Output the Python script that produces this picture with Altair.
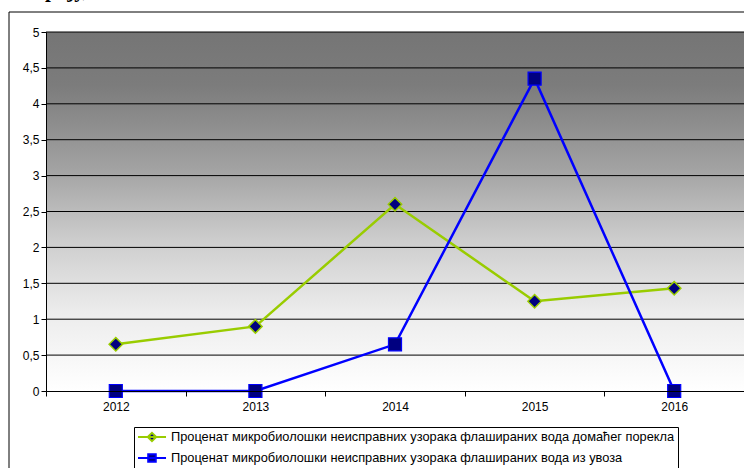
import altair as alt
import pandas as pd

years = ["2012", "2013", "2014", "2015", "2016"]
series_names = [
    "Проценат микробиолошки неисправних узорака флашираних вода домаћег порекла",
    "Проценат микробиолошки неисправних узорака флашираних вода из увоза",
]
domestic = [0.65, 0.9, 2.6, 1.25, 1.43]
imported = [0.0, 0.0, 0.65, 4.35, 0.0]
y_ticks = [0, 0.5, 1, 1.5, 2, 2.5, 3, 3.5, 4, 4.5, 5]
top_text = "прају,"

GREEN = "#99cc00"
BLUE = "#0000ff"
NAVY = "#000080"
FONT = "Liberation Sans"

rows = []
for name, vals in zip(series_names, [domestic, imported]):
    for yr, v in zip(years, vals):
        rows.append({"year": yr, "value": v, "series": name})
df = pd.DataFrame(rows)
grid_df = pd.DataFrame({"v": y_ticks[1:]})
one = pd.DataFrame({"a": [0]})

W, H = 698, 359

yscale = alt.Scale(domain=[0, 5], nice=False, zero=True)
yaxis = alt.Axis(
    values=y_ticks, grid=False, title=None, labelFont=FONT, labelFontSize=12,
    labelColor="black", tickColor="black", domainColor="black", tickSize=5,
    labelPadding=2, labelExpr="replace(toString(datum.value), '.', ',')", zindex=1,
)
xscale = alt.Scale(type="band", domain=years, paddingInner=0, paddingOuter=0)
xaxis = alt.Axis(
    title=None, labelFont=FONT, labelFontSize=12, labelColor="black", labelAngle=0,
    tickColor="black", domainColor="black", tickSize=5, tickBand="extent",
    labelPadding=5, grid=False, zindex=1,
)

X = alt.X("year:N", scale=xscale, axis=xaxis)
Y = alt.Y("value:Q", scale=yscale, axis=yaxis)

frame = alt.Chart(one).mark_rect(fill="white", fillOpacity=0, stroke="black", strokeWidth=1).encode(
    x=alt.value(-37), x2=alt.value(720), y=alt.value(-20), y2=alt.value(470)
)

title_txt = alt.Chart(one).mark_text(
    text=top_text, font="Liberation Serif", fontWeight="bold", fontSize=21,
    align="left", baseline="alphabetic", color="black",
).encode(x=alt.value(-13), y=alt.value(-35))

gradient = alt.Chart(one).mark_rect(
    fill=alt.Gradient(
        gradient="linear",
        stops=[
            alt.GradientStop(color="#757575", offset=0),
            alt.GradientStop(color="#7c7c7c", offset=0.15),
            alt.GradientStop(color="#a2a2a2", offset=0.38),
            alt.GradientStop(color="#cdcdcd", offset=0.58),
            alt.GradientStop(color="#ececec", offset=0.78),
            alt.GradientStop(color="#ffffff", offset=1),
        ],
        x1=0, y1=0, x2=0, y2=1,
    )
).encode(x=alt.value(0), x2=alt.value(W), y=alt.value(0), y2=alt.value(H))

grid = alt.Chart(grid_df).mark_rule(color="black", strokeWidth=1).encode(
    y=alt.Y("v:Q", scale=yscale, axis=yaxis)
)

lines = alt.Chart(df).mark_line(strokeWidth=2.5).encode(
    x=X, y=Y,
    color=alt.Color("series:N", scale=alt.Scale(domain=series_names, range=[GREEN, BLUE]), legend=None),
    detail="series:N",
)

pts_dom = alt.Chart(df).transform_filter(alt.datum.series == series_names[0]).mark_point(
    shape="diamond", filled=True, fill=NAVY, stroke=GREEN, strokeWidth=1.5, size=180, opacity=1
).encode(x=X, y=Y)

pts_imp = alt.Chart(df).transform_filter(alt.datum.series == series_names[1]).mark_point(
    shape="square", filled=True, fill=NAVY, stroke=BLUE, strokeWidth=1.2, size=170, opacity=1
).encode(x=X, y=Y)

path_d = "M-1,0L3.67,0M0.63,0L1.33,-0.7L2.03,0L1.33,0.7Z"
path_s = "M-1,0L3.67,0M0.7,-0.63L1.96,-0.63L1.96,0.63L0.7,0.63Z"
leg = alt.Legend(
    title=None, orient="none", legendX=88, legendY=395, direction="vertical",
    strokeColor="black", fillColor="white", padding=3, symbolSize=144,
    symbolStrokeWidth=2, symbolOpacity=1, labelFont=FONT, labelFontSize=12.8,
    labelColor="black", labelLimit=800, labelOffset=20, rowPadding=4, zindex=2,
)
# legend carrier: draws no marks of its own (filtered empty); entries come from the scale domains
legend_layer = alt.Chart(df).transform_filter("datum.value > 1000").mark_point(
    filled=True, opacity=1, size=144
).encode(
    x=X, y=Y,
    shape=alt.Shape("series:N", scale=alt.Scale(domain=series_names, range=[path_d, path_s]), legend=leg),
    fill=alt.Fill("series:N", scale=alt.Scale(domain=series_names, range=[NAVY, NAVY]), legend=leg),
    stroke=alt.Stroke("series:N", scale=alt.Scale(domain=series_names, range=[GREEN, BLUE]), legend=leg),
)

chart = alt.layer(
    frame, title_txt, legend_layer, gradient, grid, lines, pts_dom, pts_imp
).properties(
    width=W, height=H,
    autosize=alt.AutoSizeParams(type="none"),
    padding={"left": 46, "top": 32, "right": 0, "bottom": 77},
).configure_view(stroke=None).configure(background="white")

chart.save("out.html", embed_options={"renderer": "svg", "actions": False})
